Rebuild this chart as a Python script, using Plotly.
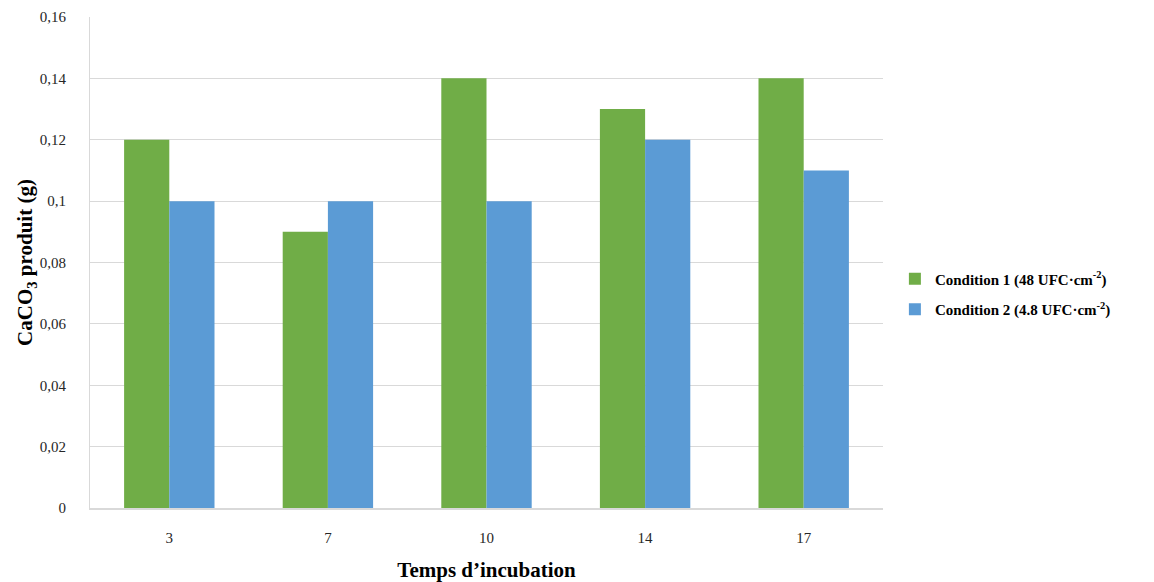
import plotly.graph_objects as go

jours = ["3", "7", "10", "14", "17"]
condition1 = [0.12, 0.09, 0.14, 0.13, 0.14]
condition2 = [0.10, 0.10, 0.10, 0.12, 0.11]
y_ticks = [0, 0.02, 0.04, 0.06, 0.08, 0.10, 0.12, 0.14, 0.16]
y_labels = ["0", "0,02", "0,04", "0,06", "0,08", "0,1", "0,12", "0,14", "0,16"]

police = "Liberation Serif, Times New Roman, serif"

fig = go.Figure()
fig.add_bar(x=jours, y=condition1, name="<b>Condition 1 (48 UFC·cm<sup>-2</sup>)</b>",
            legendgroup="c1", marker=dict(color="#70AD47", line_width=0))
fig.add_bar(x=jours, y=condition2, name="<b>Condition 2 (4.8 UFC·cm<sup>-2</sup>)</b>",
            legendgroup="c2", marker=dict(color="#5B9BD5", line_width=0))

# la page ajoute une marge de 8 px autour du graphique
fig.update_layout(
    width=1138, height=574,
    barmode="group", bargap=0.43, bargroupgap=0,
    plot_bgcolor="white", paper_bgcolor="white",
    font=dict(family=police, size=15, color="#262626"),
    margin=dict(l=82, r=263, t=9, b=74),
    legend=dict(x=1.015, y=0.436, yanchor="middle", xanchor="left",
                font=dict(size=15, color="black"), tracegroupgap=8,
                traceorder="grouped"),
    xaxis=dict(title=dict(text="<b>Temps d’incubation</b>", font=dict(size=21, color="black"),
                          standoff=30),
               showline=True, linecolor="#D9D9D9", linewidth=2,
               ticks="outside", ticklen=15, tickcolor="rgba(0,0,0,0)", automargin=False),
    yaxis=dict(title=dict(text="<b>CaCO<sub>3</sub> produit (g)</b>", font=dict(size=21, color="black"),
                          standoff=0),
               range=[0, 0.16], tickvals=y_ticks, ticktext=y_labels,
               showgrid=True, gridcolor="#D9D9D9", showline=True, linecolor="#D9D9D9",
               zeroline=False, ticks="outside", ticklen=20, tickcolor="rgba(0,0,0,0)",
               automargin=False),
)

fig.write_html("out.html")
